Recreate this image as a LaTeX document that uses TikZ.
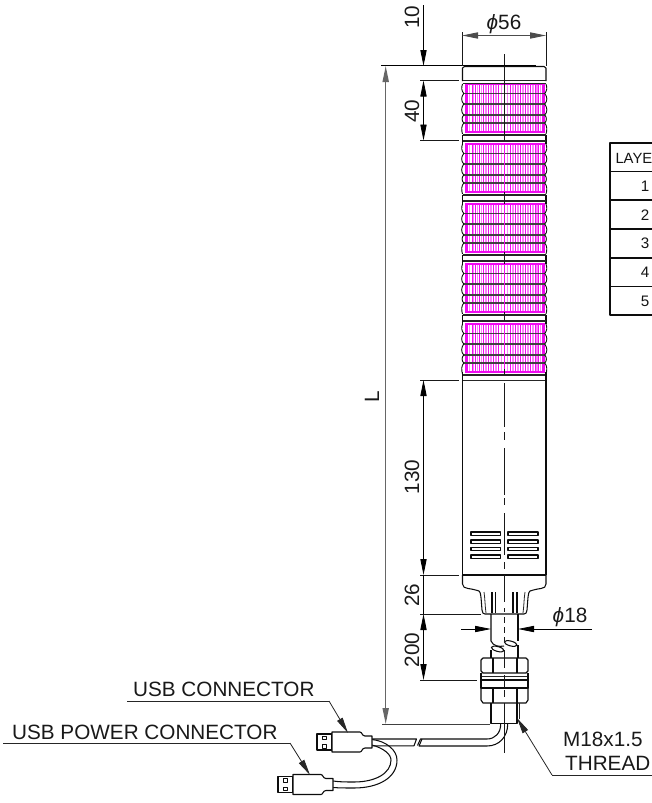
\documentclass[tikz,border=0pt]{standalone}
\usepackage{fontspec}
\setmainfont{Liberation Sans}
\usetikzlibrary{arrows.meta}
\definecolor{mag}{RGB}{240,10,240}
\definecolor{lmag}{RGB}{250,130,250}
\tikzset{
  part/.style={draw=black!95,line width=1.05pt,line join=round},
  thin part/.style={draw=black!85,line width=0.8pt},
  band/.style={draw=black!85,line width=1.2pt},
  dim/.style={draw=black,line width=0.8pt},
  ext/.style={draw=black!90,line width=0.8pt},
  leader/.style={draw=black!85,line width=0.8pt},
  dimtip/.style={-{Triangle[length=16pt,width=6.2pt]}},
  dimtips/.style={{Triangle[length=16pt,width=6.2pt]}-{Triangle[length=16pt,width=6.2pt]}},
  lab/.style={font=\fontsize{20.7}{22}\selectfont,text=black!90,inner sep=0pt},
  tab/.style={font=\fontsize{15.2}{17}\selectfont,text=black!92,inner sep=0pt},
}
\newcommand{\tierdraw}[1]{%
  \foreach \x in {469.5,473.6,477.3,481.5,485.8,491,496,501.5,507.3,512.8,517.8,522.8,527.8,532.8,537,540.3} {
    \draw[lmag,line width=1.6pt] (\x,#1) -- (\x,{#1+48});
  }
  \foreach \x in {467,472,475.3,479.3,483.7,488,493.7,498.7,510.3,515.3,520.3,525.3,530.3,535.3,538.7,542} {
    \draw[mag,line width=1pt] (\x,#1) -- (\x,{#1+48});
  }
  \draw[mag,line width=1.3pt] (466,#1) rectangle (544,{#1+48});
  \foreach \o in {9.5,20,31,39} {
    \draw[band,draw=black!75] (463,{#1+\o}) -- (545,{#1+\o});
  }
  \draw[part,line width=0.9pt] (462.5,{#1}) .. controls (461.3,{#1+4}) and (461.3,{#1+6}) .. (463.7,{#1+9.5})
     .. controls (461,{#1+13}) and (461,{#1+17}) .. (463.7,{#1+20})
     .. controls (461,{#1+24}) and (461,{#1+28}) .. (463.7,{#1+31})
     .. controls (461.6,{#1+33}) and (461.6,{#1+37}) .. (463.7,{#1+39})
     .. controls (461.3,{#1+42}) and (461.3,{#1+46}) .. (462.5,{#1+50});
  \draw[part,line width=0.9pt] (546,{#1}) .. controls (547.2,{#1+4}) and (547.2,{#1+6}) .. (544.8,{#1+9.5})
     .. controls (547.5,{#1+13}) and (547.5,{#1+17}) .. (544.8,{#1+20})
     .. controls (547.5,{#1+24}) and (547.5,{#1+28}) .. (544.8,{#1+31})
     .. controls (546.9,{#1+33}) and (546.9,{#1+37}) .. (544.8,{#1+39})
     .. controls (547.2,{#1+42}) and (547.2,{#1+46}) .. (546,{#1+50});
}
\newcommand{\sepdraw}[1]{%
  \draw[part] (462.5,{#1}) -- (462.5,{#1+9});
  \draw[part] (546,{#1}) -- (546,{#1+9});
  \draw[band] (462.5,{#1}) -- (546,{#1});
  \draw[band,line width=1.5pt] (462.5,{#1+6}) -- (546,{#1+6});
}
\newcommand{\usbplug}[2]{%
  \draw[part,line width=1.1pt] (#1,{#2-8}) rectangle ({#1+15},{#2+8});
  \draw[part,line width=0.8pt] ({#1+5},{#2-6}) rectangle ({#1+9},{#2-2.5});
  \draw[part,line width=0.8pt] ({#1+5},{#2+2.5}) rectangle ({#1+9},{#2+6});
  \draw[part,line width=1.1pt,fill=white] ({#1+15},{#2-10}) -- ({#1+43},{#2-10}) .. controls ({#1+45},{#2-10}) and ({#1+45},{#2-6}) .. ({#1+48},{#2-6})
     -- ({#1+55},{#2-6}) -- ({#1+55},{#2+6}) -- ({#1+48},{#2+6}) .. controls ({#1+45},{#2+6}) and ({#1+45},{#2+10}) .. ({#1+43},{#2+10})
     -- ({#1+15},{#2+10}) -- cycle;
}
\newcommand{\phisym}{{\itshape ϕ}}
\begin{document}
\begin{tikzpicture}[x=1pt,y=-1pt]
\useasboundingbox (0,0) rectangle (652,803);
% tiers
\foreach \t in {84,144,204,264,324} { \tierdraw{\t} }
\foreach \t in {135,195,255,315} { \sepdraw{\t} }
% cap
\draw[part] (462.5,81) -- (462.5,68) -- (464.5,66.5) -- (544,66.5) -- (546,68) -- (546,81);
\draw[band] (462.5,80.5) -- (546,80.5);
\draw[band] (462.5,83.5) -- (546,83.5);
% lower body
\draw[band] (462.5,375) -- (546,375);
\draw[band,line width=1.5pt] (462.5,380.5) -- (546,380.5);
\draw[part] (462.5,372) -- (462.5,575);
\draw[part] (546,372) -- (546,575);
\foreach \y in {532,540,547.5,555} {
  \draw[part] (471,\y) rectangle (500.7,{\y+3.2});
  \draw[part] (508,\y) rectangle (538,{\y+3.2});
}
\draw[part] (462.5,575) -- (546,575);
% base
\draw[part] (462.5,575) -- (462.5,584) .. controls (462.5,587) and (465,588) .. (468,588.5)
   .. controls (472,589) and (476,590) .. (479,591) .. controls (481,592) and (481,598) .. (482,610)
   .. controls (482.5,613) and (483,614) .. (485,614) -- (524,614)
   .. controls (526,614) and (526.5,613) .. (527,610) .. controls (528,598) and (528,592) .. (530,591)
   .. controls (533,590) and (537,589) .. (541,588.5) .. controls (544,588) and (546,587) .. (546,584) -- (546,575);
\draw[thin part] (484,592) .. controls (485,598) and (485,606) .. (486,613);
\draw[thin part] (525,592) .. controls (524,598) and (524,606) .. (523,613);
\draw[part] (492,592) -- (492,613);
\draw[part] (495.5,592) -- (495.5,613);
\draw[part] (513,592) -- (513,613);
\draw[part] (517,592) -- (517,613);
% shaft
\draw[part] (491,614) -- (491,641) .. controls (493,646) and (499,647) .. (504,646);
\draw[part] (518,614) -- (518,641);
\draw[part,rotate around={-15:(497.7,649)}] (497.7,649) ellipse (6.5pt and 2.4pt);
\draw[part,rotate around={-15:(510.7,643.5)}] (510.7,643.5) ellipse (6.5pt and 2.4pt);
\draw[part] (491,650) -- (491,658);
\draw[part] (518,645) -- (518,658);
% nuts
\draw[part,line width=1.2pt] (483,658) -- (526,658) -- (528,660) -- (528,671) -- (526,673) -- (483,673) -- (481,671) -- (481,660) -- cycle;
\draw[part] (493,658) -- (493,673);
\draw[part] (517,658) -- (517,673);
\draw[band] (481,676.5) -- (528,676.5);
\draw[part] (481,673) -- (481,680);
\draw[part] (528,673) -- (528,680);
\draw[part,line width=1.2pt] (481,680) rectangle (528,688);
\draw[part,line width=1.2pt] (481,688) -- (528,688) -- (528,700) -- (526,703) -- (483,703) -- (481,700) -- cycle;
\draw[part] (493,688) -- (493,703);
\draw[part] (517,688) -- (517,703);
% thread
\draw[part,line width=1.2pt] (491,703) -- (491,723.5) -- (517,723.5) -- (517,703);
\draw[thin part] (519,703) -- (519,719);
% cable
\draw[part] (500.7,724) .. controls (500.7,733) and (495,739) .. (487,739) -- (420.5,739) -- (417.5,745.5);
\draw[part] (507.7,724) .. controls (507.7,737) and (499,746) .. (487,746) -- (419,746) -- (422,739);
\draw[part] (372,739) -- (416.5,739) -- (414,745.8) -- (372,745.8);
% Y cable
\draw[part] (372,739.5) .. controls (386,741) and (397,750) .. (397,760) .. controls (397,778) and (378,788) .. (354,788) .. controls (346,788) and (340,788) .. (333,787.5);
\draw[part] (372,745) .. controls (383,748) and (391,754) .. (391,760) .. controls (391,773) and (376,782) .. (354,782) .. controls (346,782) and (340,782) .. (333,781);
\usbplug{317}{742}
\usbplug{278}{784.5}
% centre line
\draw[ext] (504,54) -- (504,141);
\foreach \t in {144,204,264,324} { \draw[mag,line width=1pt] (504,\t) -- (504,{\t+48}); }
\draw[ext] (504,192) -- (504,204);
\draw[ext] (504,252) -- (504,264);
\draw[ext] (504,312) -- (504,321);
\draw[ext] (504,369) -- (504,375);
\draw[ext] (504,383) -- (504,427);
\draw[ext] (504,432) -- (504,440);
\draw[ext] (504,448) -- (504,495);
\draw[ext] (504,498) -- (504,505);
\draw[ext] (504,513) -- (504,555);
\draw[ext] (504,562) -- (504,569);
\draw[ext] (504,575) -- (504,602);
\draw[ext] (504,608) -- (504,612);
\draw[ext] (504,617) -- (504,623);
\draw[ext] (504,627) -- (504,633);
\draw[ext] (504,637) -- (504,641);
\draw[ext] (504,650) -- (504,668);
\draw[ext] (504,675) -- (504,687);
\draw[ext] (504,690) -- (504,697);
\draw[ext] (504,703) -- (504,753);
% extension lines
\draw[ext,draw=black,line width=1pt] (381,65.5) -- (536,65.5);
\draw[ext] (462,32) -- (462,66);
\draw[ext] (546,32) -- (546,66);
\draw[ext] (420,80.5) -- (459,80.5);
\draw[ext] (420,140.5) -- (459,140.5);
\draw[ext] (420,380) -- (459,380);
\draw[ext] (420,575) -- (459,575);
\draw[ext] (420,614) -- (481,614);
\draw[ext] (420,680) -- (477,680);
\draw[ext,draw=black!75] (382,724.5) -- (490,724.5);
% dimension lines
\draw[dim,draw=black!60,line width=1.3pt,dimtips] (385.7,66) -- (385.7,724);
\draw[dim,dimtip] (423.5,5) -- (423.5,66);
\draw[dim,dimtips] (423.5,80.5) -- (423.5,140.5);
\draw[dim,dimtips] (423.5,380) -- (423.5,575);
\draw[dim] (423.5,575) -- (423.5,614);
\draw[dim,dimtips] (423.5,614) -- (423.5,680);
\draw[dim,dimtips,draw=black!70] (462,35.5) -- (546,35.5);
\draw[dim,dimtip] (461,629) -- (491,629);
\draw[dim,dimtip] (592,629) -- (518,629);
% dimension labels
\node[lab,rotate=90] (dl) at (372,397) {L};
\node[lab,rotate=90] (dten) at (412,17) {10};
\node[lab,rotate=90] (dforty) at (412,111) {40};
\node[lab,rotate=90] (dhundred) at (412,477) {130};
\node[lab,rotate=90] (dtwosix) at (412,595) {26};
\node[lab,rotate=90] (dtwohundred) at (412,650) {200};
\node[lab] (dfiftysix) at (504,24) {\phisym 56};
\node[lab] (deighteen) at (570,617) {\phisym 18};
% leaders
\node[lab,anchor=base west] (usbtext) at (133,696) {USB CONNECTOR};
\coordinate (usbtip) at (348,733);
\coordinate (usbknee) at (329,701);
\coordinate (usbstart) at (127,701);
\draw[leader] (usbstart) -- (usbknee);
\draw[leader,dimtip] (usbknee) -- (usbtip);
\node[lab,anchor=base west] (powtext) at (12,739) {USB POWER CONNECTOR};
\coordinate (powtip) at (310,775);
\coordinate (powknee) at (290,743);
\coordinate (powstart) at (3,743);
\draw[leader] (powstart) -- (powknee);
\draw[leader,dimtip] (powknee) -- (powtip);
\node[lab,anchor=base west] (mtext) at (563,746) {M18x1.5};
\node[lab,anchor=base west] (ttext) at (565,770) {THREAD};
\coordinate (mtip) at (517,718);
\coordinate (mknee) at (552,775);
\coordinate (mend) at (652,775);
\draw[leader] (mend) -- (mknee);
\draw[leader,dimtip] (mknee) -- (mtip);
% table
\draw[part] (652,143) -- (610,143) -- (610,315) -- (652,315);
\foreach \y in {171.5,200,229,258,286.5} { \draw[part] (610,\y) -- (652,\y); }
\node[tab,anchor=base west,font=\fontsize{14.8}{17}\selectfont] (tlayer) at (615.3,163) {LAYE};
\node[tab] (tone) at (645,186) {1};
\node[tab] (ttwo) at (645,215) {2};
\node[tab] (tthree) at (645,243) {3};
\node[tab] (tfour) at (645,272) {4};
\node[tab] (tfive) at (645,301) {5};
\end{tikzpicture}
\end{document}
